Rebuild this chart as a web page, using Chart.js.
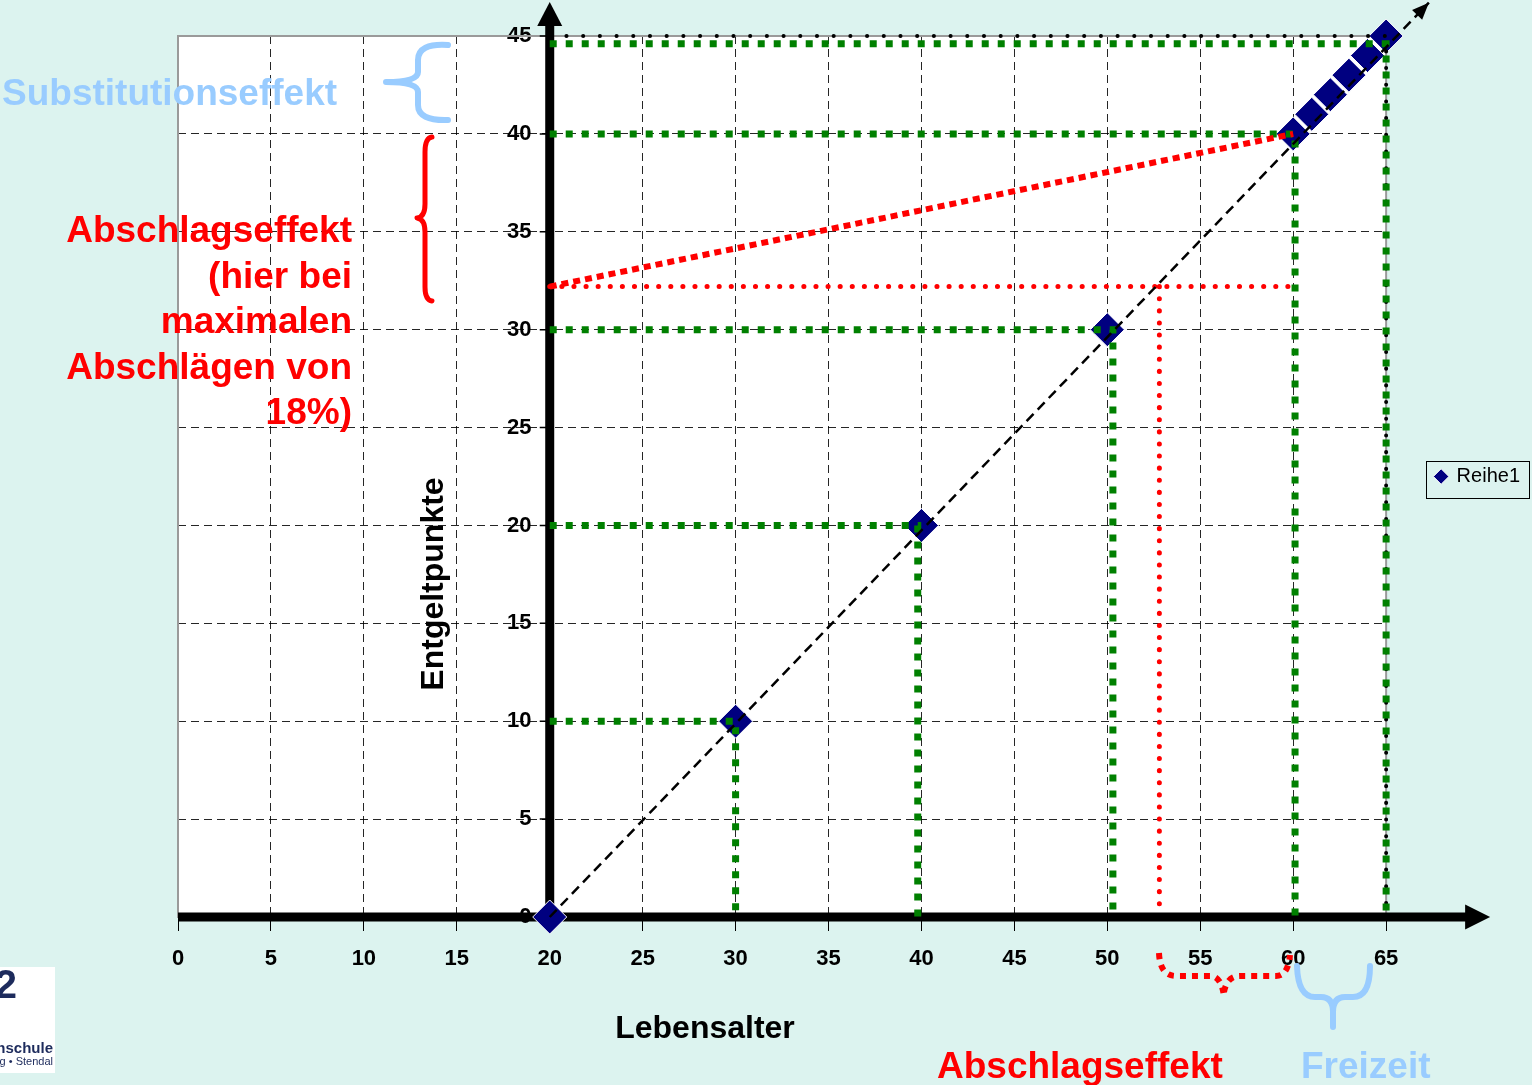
<!DOCTYPE html>
<html>
<head>
<meta charset="utf-8">
<script src="https://cdn.jsdelivr.net/npm/chart.js@4.4.1/dist/chart.umd.min.js"></script>
<style>
  html, body { margin: 0; padding: 0; background: #dcf3ef; overflow: hidden; }
  #wrap { width: 1532px; height: 1085px; position: relative; }
</style>
</head>
<body>
<div id="wrap"><canvas id="c" width="1532" height="1085"></canvas></div>
<script>
// Reihe1: Lebensalter und erworbene Entgeltpunkte
const ages   = [20, 30, 40, 50, 60, 61, 62, 63, 64, 65];
const points = [0, 10, 20, 30, 40, 41, 42, 43, 44, 45];

// Achsenteilung
const xTickValues = [0, 5, 10, 15, 20, 25, 30, 35, 40, 45, 50, 55, 60, 65];
const yTickValues = [0, 5, 10, 15, 20, 25, 30, 35, 40, 45];

// grüne Hilfslinien: Entgeltpunkte-Niveau und zugehöriges Alter
const guideLevels = [10, 20, 30, 40, 44.6];
const guideAges   = [30, 39.8, 50.3, 60.1, 65];

// 45-Grad-Linie vom Berufsstart bis zur Pfeilspitze
const diagonalX = [20, 67.3];
const diagonalY = [0, 46.7];

// Abschlag bei Rente mit 60
const startAge = 20;
const retirementAge = 60;
const fullPoints = 40;
const reducedPoints = 32.2;
const equivalentAge = 52.8;
const maxAge = 65;
const maxPoints = 45;

const FONT = '"Liberation Sans", Arial, sans-serif';
const RED = '#ff0000';
const LIGHTBLUE = '#99ccff';
const GREEN = '#008000';
const NAVY = '#000080';

// grüne Linien: waagrecht ab Alter 20, dann senkrecht bis zur Achse
const greenData = [];
guideLevels.forEach((lvl, i) => {
  greenData.push({x: startAge, y: lvl}, {x: guideAges[i], y: lvl}, {x: guideAges[i], y: 0});
  greenData.push({x: guideAges[i], y: null});
});

const borderDotted = [
  {x: startAge, y: maxPoints}, {x: maxAge, y: maxPoints}, {x: maxAge, y: 0}
];

const redDiagonal = [{x: startAge, y: reducedPoints}, {x: retirementAge, y: fullPoints}];
const redLevel = [
  {x: startAge, y: reducedPoints}, {x: retirementAge - 0.2, y: reducedPoints}, {x: NaN, y: null},
  {x: equivalentAge, y: reducedPoints}, {x: equivalentAge, y: 0.3}
];

function lineSet(data, color, width, dash, cap, order, extra) {
  return Object.assign({
    data, showLine: true, borderColor: color, borderWidth: width, borderDash: dash,
    borderCapStyle: cap, pointRadius: 0, pointHoverRadius: 0, fill: false,
    spanGaps: false, tension: 0, order
  }, extra || {});
}

const datasets = [
  {
    label: 'Reihe1',
    data: ages.map((a, i) => ({x: a, y: points[i]})),
    pointStyle: 'rectRot', pointRadius: 17, pointHoverRadius: 17,
    backgroundColor: NAVY, borderColor: '#ffffff', borderWidth: 1,
    showLine: false, order: 10, clip: false
  },
  lineSet(borderDotted, '#000000', 4, [0.1, 16.6], 'round', 9, {clip: 6}),
  lineSet(greenData, GREEN, 7, [7, 9], 'butt', 7, {clip: 8}),
  lineSet(redLevel, RED, 5, [0.1, 12], 'round', 6),
  lineSet(redDiagonal, RED, 6, [7, 5], 'butt', 5),
  lineSet(diagonalX.map((x, i) => ({x, y: diagonalY[i]})), '#000000', 2.5, [10, 6], 'butt', 1, {clip: false})
];

function brace(ctx, color, width, dash, draw) {
  ctx.save();
  ctx.strokeStyle = color; ctx.lineWidth = width; ctx.lineCap = dash.length ? 'butt' : 'round';
  ctx.lineJoin = 'round'; ctx.setLineDash(dash);
  ctx.beginPath(); draw(ctx); ctx.stroke();
  ctx.restore();
}

const decorations = {
  id: 'decorations',
  beforeDraw(chart) {
    const {ctx, chartArea: a} = chart;
    ctx.save();
    ctx.fillStyle = '#dcf3ef';
    ctx.fillRect(0, 0, chart.width, chart.height);
    ctx.fillStyle = '#ffffff';
    ctx.fillRect(a.left, a.top, a.right - a.left, a.bottom - a.top);
    ctx.restore();
  },
  beforeDatasetsDraw(chart) {
    const {ctx, chartArea: a, scales: {x, y}} = chart;
    const x0 = x.getPixelForValue(startAge);
    const y0 = y.getPixelForValue(0);
    ctx.save();
    // Rahmen der Zeichenfläche
    ctx.strokeStyle = '#9a9a9a'; ctx.lineWidth = 2;
    ctx.strokeRect(a.left, a.top, a.right - a.left, a.bottom - a.top);
    // Achsen mit Pfeilen
    ctx.strokeStyle = '#000'; ctx.fillStyle = '#000'; ctx.lineWidth = 9;
    ctx.beginPath();
    ctx.moveTo(a.left, y0); ctx.lineTo(a.right + 82, y0);
    ctx.moveTo(x0, y0 + 4); ctx.lineTo(x0, a.top - 12);
    ctx.stroke();
    ctx.beginPath();
    ctx.moveTo(a.right + 79, y0 - 12.5); ctx.lineTo(a.right + 104, y0); ctx.lineTo(a.right + 79, y0 + 12.5);
    ctx.closePath(); ctx.fill();
    ctx.beginPath();
    ctx.moveTo(x0 - 12.5, a.top - 10); ctx.lineTo(x0, a.top - 34); ctx.lineTo(x0 + 12.5, a.top - 10);
    ctx.closePath(); ctx.fill();
    // kleine Teilstriche links der senkrechten Achse
    ctx.lineWidth = 1.5;
    ctx.beginPath();
    yTickValues.forEach(v => {
      const py = y.getPixelForValue(v);
      ctx.moveTo(x0 - 10, py); ctx.lineTo(x0, py);
    });
    ctx.stroke();
    ctx.restore();
  },
  afterDatasetsDraw(chart) {
    const {ctx, scales: {x, y}} = chart;
    ctx.save();
    // Pfeilspitze der 45-Grad-Linie
    const px1 = x.getPixelForValue(diagonalX[0]), py1 = y.getPixelForValue(diagonalY[0]);
    const px2 = x.getPixelForValue(diagonalX[1]), py2 = y.getPixelForValue(diagonalY[1]);
    const ang = Math.atan2(py2 - py1, px2 - px1);
    ctx.fillStyle = '#000';
    ctx.beginPath();
    ctx.moveTo(px2, py2);
    ctx.lineTo(px2 - 17 * Math.cos(ang) + 7 * Math.sin(ang), py2 - 17 * Math.sin(ang) - 7 * Math.cos(ang));
    ctx.lineTo(px2 - 17 * Math.cos(ang) - 7 * Math.sin(ang), py2 - 17 * Math.sin(ang) + 7 * Math.cos(ang));
    ctx.closePath(); ctx.fill();

    // Beschriftungen
    ctx.textBaseline = 'alphabetic';
    ctx.font = 'bold 37px ' + FONT;
    ctx.fillStyle = LIGHTBLUE; ctx.textAlign = 'left';
    ctx.fillText('Substitutionseffekt', 2, 105);
    ctx.fillText('Freizeit', 1301, 1078);
    ctx.fillStyle = RED;
    ctx.fillText('Abschlagseffekt', 937, 1078);
    ctx.textAlign = 'right';
    ['Abschlagseffekt', '(hier bei', 'maximalen', 'Abschlägen von', '18%)'].forEach((t, i) => {
      ctx.fillText(t, 352, 242 + i * 45.5);
    });

    // Achsentitel
    ctx.fillStyle = '#000';
    ctx.font = 'bold 32px ' + FONT;
    ctx.textAlign = 'center';
    ctx.fillText('Lebensalter', 705, 1038);
    ctx.save();
    ctx.translate(443, 584); ctx.rotate(-Math.PI / 2);
    ctx.fillText('Entgeltpunkte', 0, 0);
    ctx.restore();

    // geschweifte Klammern
    brace(ctx, LIGHTBLUE, 6, [], c => {
      c.moveTo(448, 45); c.quadraticCurveTo(418, 43, 418, 60); c.lineTo(418, 72);
      c.quadraticCurveTo(418, 82, 386, 82);
      c.quadraticCurveTo(418, 82, 418, 92); c.lineTo(418, 105);
      c.quadraticCurveTo(418, 121, 448, 120);
    });
    brace(ctx, RED, 5, [], c => {
      c.moveTo(432, 137); c.quadraticCurveTo(425, 138, 425, 152); c.lineTo(425, 204);
      c.quadraticCurveTo(425, 217, 417, 218);
      c.quadraticCurveTo(425, 219, 425, 232); c.lineTo(425, 287);
      c.quadraticCurveTo(425, 300, 432, 301);
    });
    brace(ctx, RED, 6, [6, 6], c => {
      c.moveTo(1159, 953); c.quadraticCurveTo(1160, 976, 1176, 976); c.lineTo(1212, 976);
      c.quadraticCurveTo(1222, 978, 1224, 997);
      c.moveTo(1224, 992); c.quadraticCurveTo(1227, 976, 1240, 976); c.lineTo(1276, 976);
      c.quadraticCurveTo(1288, 976, 1290, 955);
    });
    brace(ctx, LIGHTBLUE, 6, [], c => {
      c.moveTo(1297, 966); c.quadraticCurveTo(1298, 997, 1315, 997); c.lineTo(1321, 997);
      c.quadraticCurveTo(1333, 997, 1333, 1012); c.lineTo(1333, 1027);
      c.moveTo(1333, 1012); c.quadraticCurveTo(1333, 997, 1345, 997); c.lineTo(1353, 997);
      c.quadraticCurveTo(1370, 997, 1370, 966);
    });

    // Logo der Hochschule
    ctx.fillStyle = '#ffffff';
    ctx.fillRect(0, 967, 55, 106);
    ctx.fillStyle = '#1d2b5c';
    ctx.textAlign = 'right';
    ctx.font = 'bold 40px ' + FONT;
    ctx.fillText('h2', 17, 998);
    ctx.font = 'bold 15px ' + FONT;
    ctx.fillText('Hochschule', 53, 1053);
    ctx.font = '11px ' + FONT;
    ctx.fillText('Magdeburg • Stendal', 53, 1065);
    ctx.restore();
  },
  afterDraw(chart) {
    const lg = chart.legend;
    if (!lg || !lg.legendHitBoxes || !lg.legendHitBoxes.length) return;
    const h = lg.legendHitBoxes[0];
    const ctx = chart.ctx;
    ctx.save();
    ctx.strokeStyle = '#000'; ctx.lineWidth = 1;
    ctx.strokeRect(Math.round(h.left - 10) + 0.5, Math.round(h.top - 6) + 0.5,
                   Math.round(h.width + 19), Math.round(h.height + 17));
    ctx.restore();
  }
};

const gridColor = (hidden) => (ctx) =>
  ctx.tick && hidden.includes(ctx.tick.value) ? 'rgba(0,0,0,0)' : 'rgba(0,0,0,0.85)';

new Chart(document.getElementById('c'), {
  type: 'scatter',
  data: { datasets },
  options: {
    responsive: false,
    animation: false,
    events: [],
    layout: { padding: { left: 178, top: 36, right: 2, bottom: 108 } },
    plugins: {
      tooltip: { enabled: false },
      legend: {
        position: 'right',
        fullSize: false,
        maxWidth: 146,
        labels: {
          usePointStyle: true, boxWidth: 11, boxHeight: 11, padding: 49.5,
          color: '#000', font: { family: FONT, size: 20 },
          filter: (item) => item.datasetIndex === 0
        }
      }
    },
    scales: {
      x: {
        type: 'linear', position: 'bottom', min: 0, max: maxAge,
        afterBuildTicks: (s) => { s.ticks = xTickValues.map(v => ({value: v})); },
        afterFit: (s) => { s.height = 60; },
        grid: { color: gridColor([0, 20, maxAge]), lineWidth: 1, tickLength: 14,
                tickColor: '#000', tickWidth: 1 },
        border: { display: false, dash: [8, 5] },
        ticks: { color: '#000', padding: 15, maxRotation: 0,
                 font: { family: FONT, size: 22, weight: 'bold' } }
      },
      y: {
        type: 'linear', position: { x: startAge }, min: 0, max: maxPoints,
        afterBuildTicks: (s) => { s.ticks = yTickValues.map(v => ({value: v})); },
        grid: { color: gridColor([0, maxPoints]), lineWidth: 1, tickLength: 8,
                tickColor: '#000', tickWidth: 1 },
        border: { display: false, dash: [8, 5] },
        ticks: { color: '#000', padding: 7,
                 // Abstand der Beschriftung zur dicken Achse
                 callback: (v) => v + '   ',
                 font: { family: FONT, size: 22, weight: 'bold' } }
      }
    }
  },
  plugins: [decorations]
});
</script>
</body>
</html>
